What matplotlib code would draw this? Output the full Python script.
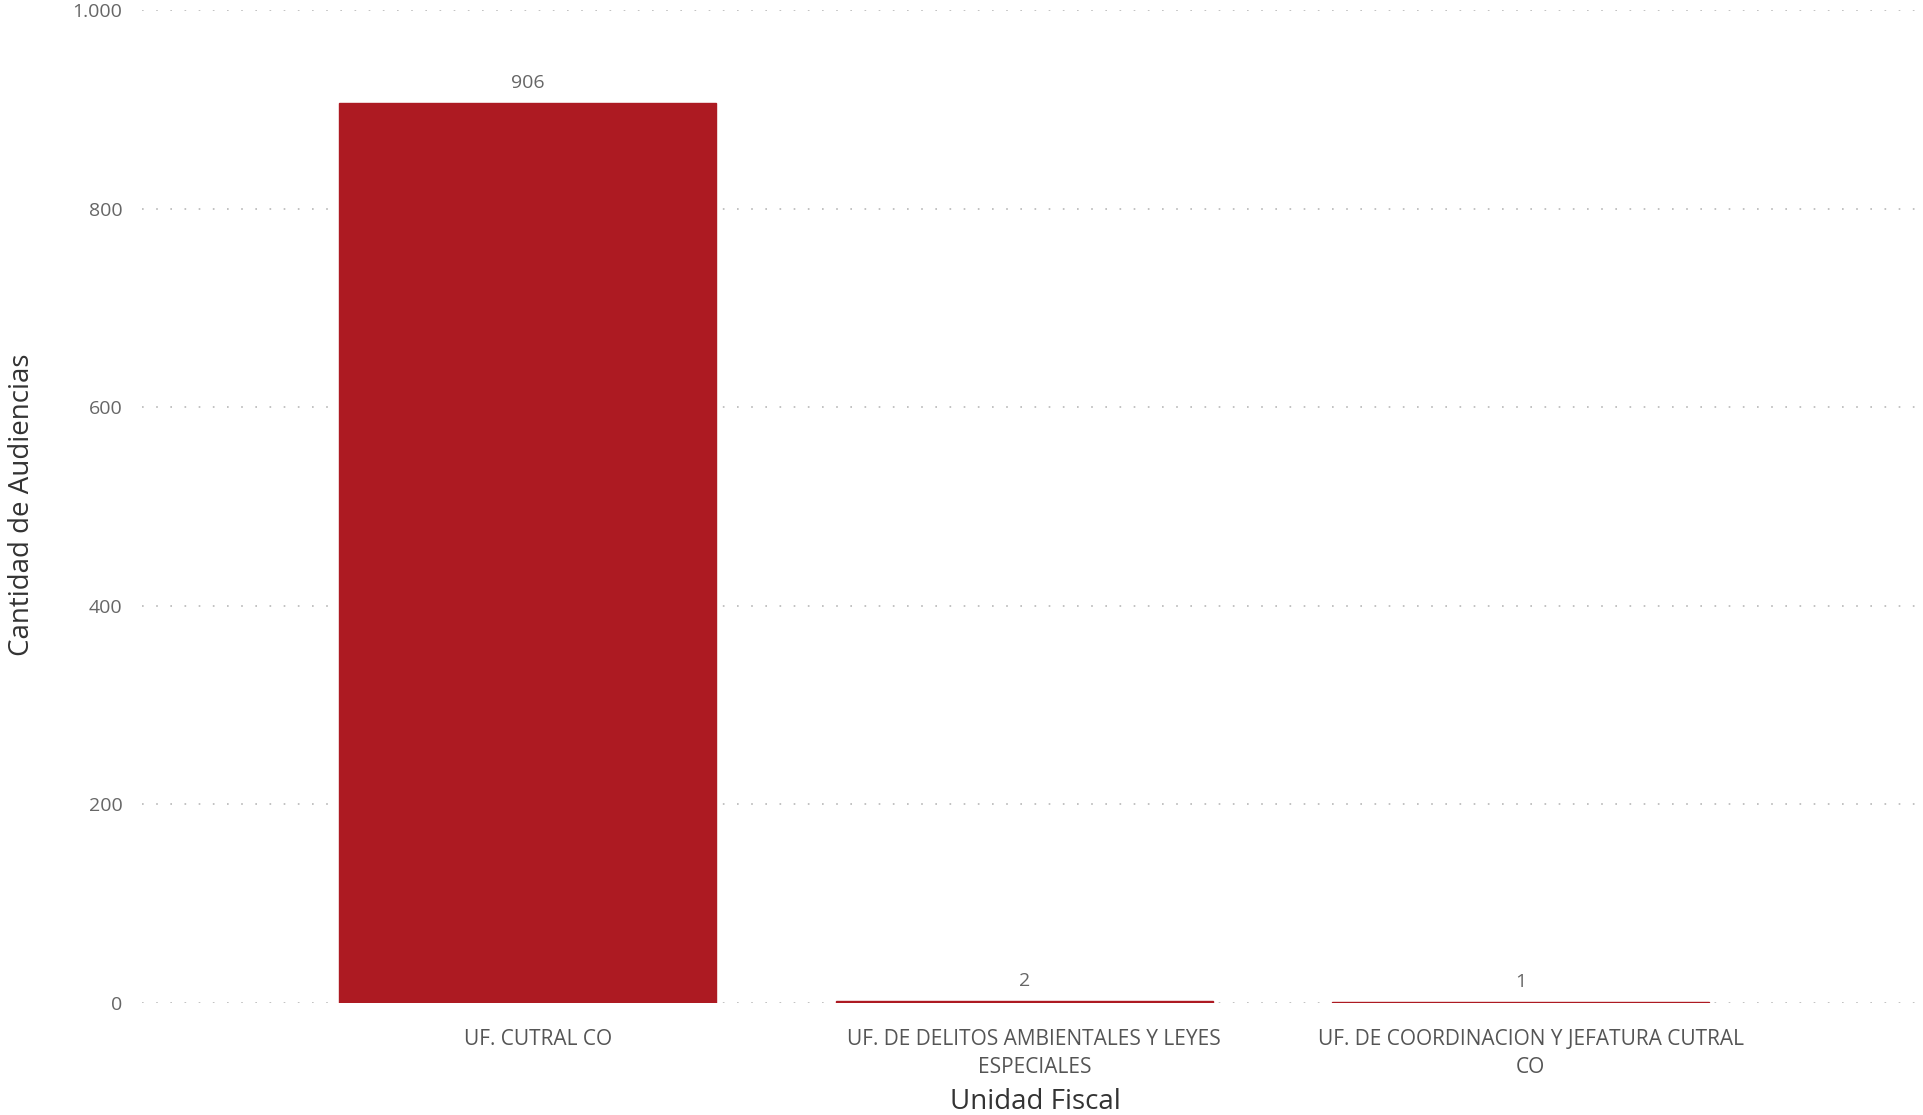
import matplotlib.pyplot as plt
import matplotlib.transforms as mtransforms

plt.rcParams['font.family'] = ['Open Sans', 'DejaVu Sans']

unidades = ["UF. CUTRAL CO",
            "UF. DE DELITOS AMBIENTALES Y LEYES\nESPECIALES",
            "UF. DE COORDINACION Y JEFATURA CUTRAL\nCO"]
audiencias = [906, 2, 1]
y_ticks = [0, 200, 400, 600, 800, 1000]
y_tick_labels = ["0", "200", "400", "600", "800", "1.000"]

fig = plt.figure(figsize=(19.23, 11.15), dpi=100)
ax = fig.add_axes([142 / 1923, 0.1004, 1 - 142 / 1923, 0.991 - 0.1004])

x = list(range(len(unidades)))
# thin edge in the same colour keeps the tiny bars visible, like the original
bars = ax.bar(x, audiencias, width=0.76, color="#AD1A22",
              edgecolor="#AD1A22", linewidth=1.0, zorder=3)
ax.bar_label(bars, labels=[str(v) for v in audiencias], padding=8,
             color="#666666", fontsize=14)

ax.set_xlim(-0.777, 2.81)
ax.set_ylim(0, 1000)
ax.set_yticks(y_ticks)
ax.set_yticklabels(y_tick_labels)
ax.set_xticks(x)
ax.set_xticklabels([])

# category labels, slightly right of bar centres as in the original
trans = ax.get_xaxis_transform() + mtransforms.ScaledTranslation(0.10, 0, fig.dpi_scale_trans)
for xi, name in zip(x, unidades):
    ax.text(xi, -0.026, name, transform=trans, ha="center", va="top",
            fontsize=15, color="#555555", linespacing=1.45)

ax.tick_params(axis="y", length=0, pad=14, labelsize=14, labelcolor="#666666")
ax.tick_params(axis="x", length=0)
ax.grid(axis="y", color="#b8b8b8", linestyle=(0, (1, 7.5)), linewidth=1.2, zorder=0)
for s in ax.spines.values():
    s.set_visible(False)

fig.text(1035 / 1923, 1 - 1102 / 1115, "Unidad Fiscal", fontsize=20,
         color="#333333", ha="center", va="center")
fig.text(22 / 1923, 1 - 505 / 1115, "Cantidad de Audiencias", fontsize=20,
         color="#333333", ha="center", va="center", rotation=90)

fig.savefig("out.png", dpi=100)
